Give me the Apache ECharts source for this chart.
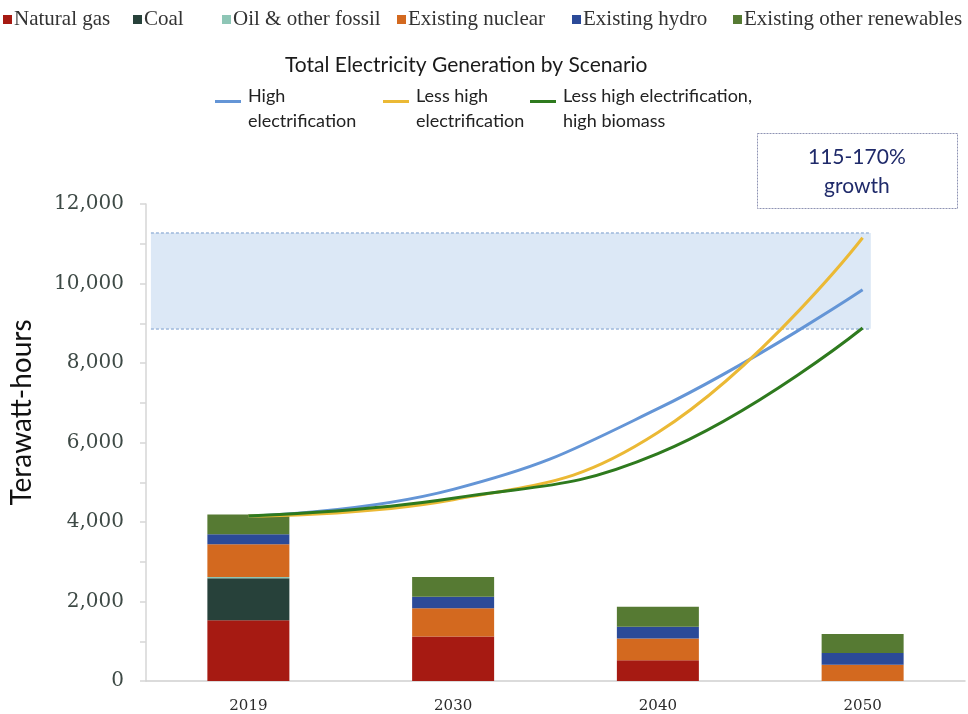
<!DOCTYPE html>
<html>
<head>
<meta charset="utf-8">
<script src="https://cdn.jsdelivr.net/npm/echarts@6/dist/echarts.min.js"></script>
<style>html,body{margin:0;padding:0;background:#fff}#c{width:968px;height:714px}</style>
</head>
<body>
<div id="c"></div>
<script>
// ---- data ----
const years = ['2019', '2030', '2040', '2050'];
const naturalGas = [1530, 1120, 525, 0];
const coal = [1055, 0, 0, 0];
const oilOther = [30, 0, 0, 0];
const existingNuclear = [825, 710, 545, 410];
const existingHydro = [250, 290, 295, 295];
const existingOtherRenewables = [500, 495, 500, 477];
const highElectrification = [4150, 4820, 6850, 9840];
const lessHighElectrification = [4150, 4560, 6250, 11150];
const lessHighHighBiomass = [4150, 4600, 5720, 8880];
const bandRange = [8860, 11270];
const bandSpan = [-0.476, 3.04];
const yTicks = { min: 0, max: 12000, step: 1000 };
const barNames = ['Natural gas', 'Coal', 'Oil & other fossil', 'Existing nuclear', 'Existing hydro', 'Existing other renewables'];
const lineNames = ['High electrification', 'Less high electrification', 'Less high electrification, high biomass'];
const lineLegendLabels = ['High\nelectrification', 'Less high\nelectrification', 'Less high electrification,\nhigh biomass'];
const growthText = '115-170%\ngrowth';

const barColors = ['#a61a12', '#27413a', '#8ec6b6', '#d3691f', '#2b4a98', '#567a33'];
const lineColors = ['#6495d6', '#ebb935', '#2e7a1e'];
const barData = [naturalGas, coal, oilOther, existingNuclear, existingHydro, existingOtherRenewables];
const lineData = [highElectrification, lessHighElectrification, lessHighHighBiomass];

const chart = echarts.init(document.getElementById('c'));

const barLegendLefts = [3, 133, 222, 397, 572, 733];
const lineLegendLefts = [215, 383, 530];

const legends = [];
barNames.forEach((n, i) => legends.push({
  data: [n], left: barLegendLefts[i], top: 9, padding: 0, icon: 'rect', itemWidth: 9, itemHeight: 9,
  textStyle: { fontFamily: 'Liberation Serif', fontSize: 21, color: '#333', padding: [0, 0, 0, -3] },
  selectedMode: false
}));
lineNames.forEach((n, i) => legends.push({
  data: [n], left: lineLegendLefts[i], top: 84, padding: 0,
  icon: 'path://M0,0L26,0L26,3L0,3ZM0,18', itemWidth: 26, itemHeight: 18,
  itemStyle: { borderWidth: 0 },
  formatter: () => lineLegendLabels[i],
  textStyle: { fontFamily: 'Lato', fontSize: 18, color: '#222', lineHeight: 25, padding: [0, 0, 0, 2] },
  selectedMode: false
}));

const series = [];
barData.forEach((d, i) => series.push({
  name: barNames[i], type: 'bar', stack: 'gen', data: d, barWidth: 82,
  itemStyle: { color: barColors[i] }, z: 3
}));
lineData.forEach((d, i) => series.push({
  name: lineNames[i], type: 'line', data: d, smooth: 0.45, symbol: 'none',
  lineStyle: { color: lineColors[i], width: 3 }, itemStyle: { color: lineColors[i] }, z: 5
}));
series.push({
  name: 'band', type: 'line', xAxisIndex: 1, data: [], silent: true, z: 1,
  markArea: { silent: true, itemStyle: { color: '#dce8f6' },
    data: [[{ coord: [bandSpan[0], bandRange[1]] }, { coord: [bandSpan[1], bandRange[0]] }]] },
  markLine: { silent: true, symbol: 'none', label: { show: false },
    lineStyle: { color: '#9db8dc', type: [3, 2], width: 1.5 },
    data: bandRange.map(v => [{ coord: [bandSpan[0], v] }, { coord: [bandSpan[1], v] }]) }
});

chart.setOption({
  animation: false,
  title: { text: 'Total Electricity Generation by Scenario', left: 280, top: 50,
    textStyle: { fontFamily: 'Lato', fontSize: 21, fontWeight: 'normal', color: '#1a1a1a' } },
  legend: legends,
  grid: { left: 143, right: 3, top: 204, bottom: 32 },
  xAxis: [{
    type: 'category', data: years,
    axisLine: { lineStyle: { color: '#d0d0d0', width: 1.5 } },
    axisTick: { length: 6, lineStyle: { color: '#d0d0d0', width: 1.5 } },
    axisLabel: { fontFamily: 'DejaVu Serif', fontSize: 15, color: '#2b2b2b', margin: 18 }
  }, {
    type: 'value', min: -0.5, max: 3.5, show: false
  }],
  yAxis: {
    type: 'value', min: yTicks.min, max: yTicks.max, interval: yTicks.step,
    name: 'Terawatt-hours', nameLocation: 'middle', nameGap: 110,
    nameTextStyle: { fontFamily: 'Lato', fontSize: 28, color: '#111', padding: [0, 0, 0, 60] },
    axisLine: { show: true, onZero: false, lineStyle: { color: '#d6d6d6', width: 1.5 } },
    axisTick: { show: true, length: 6, lineStyle: { color: '#d6d6d6', width: 1.5 } },
    splitLine: { show: false },
    axisLabel: { fontFamily: 'DejaVu Serif', fontSize: 20, color: '#3e4a46', margin: 22,
      formatter: v => (v % 2000 === 0 ? v.toLocaleString('en-US') : '') }
  },
  graphic: [{
    type: 'rect', left: 757, top: 133, shape: { width: 200, height: 75 },
    style: { fill: '#fff', stroke: '#8e93b3', lineWidth: 1, lineDash: [2, 1] }
  }, {
    type: 'text', left: 808, top: 143,
    style: { text: growthText, fontFamily: 'Lato', fontSize: 21, fill: '#1f2a6a', lineHeight: 29, textAlign: 'center', width: 90 }
  }],
  series: series
});
</script>
</body>
</html>
